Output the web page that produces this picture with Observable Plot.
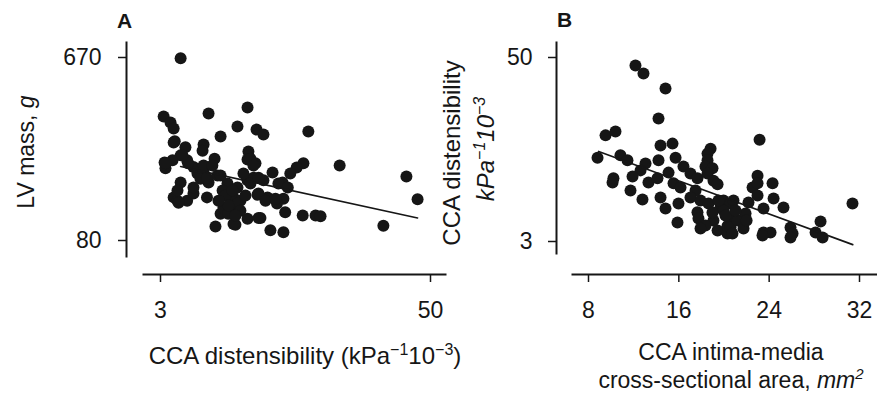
<!DOCTYPE html>
<html><head><meta charset="utf-8">
<script src="https://cdn.jsdelivr.net/npm/d3@7"></script>
<script src="https://cdn.jsdelivr.net/npm/@observablehq/plot@0.6"></script>
<style>
body{margin:0;background:#fff;}
#chart{position:relative;width:877px;height:395px;background:#fff;}
#chart svg{position:absolute;left:0;top:0;}
</style></head><body><div id="chart"></div>
<script>
// Panel A: CCA distensibility (x, log) vs LV mass (y, log)
const aDist = [3.70,3.10,3.33,3.44,3.48,4.95,7.43,6.69,5.61,8.16,8.77,14.0,3.89,4.70,4.65,5.27,7.50,7.43,8.07,3.13,
  3.16,19.4,38.9,43.7,30.6,13.3,12.4,11.6,9.64,10.7,13.2,15.1,15.9,9.43,10.8,5.32,6.55,7.43,8.50,5.61,
  6.42,11.0,10.8,8.24,9.15,10.1,3.44,3.58,3.70,3.96,4.23,4.87,4.95,4.41,4.70,5.43,6.03,6.42,5.73,5.78,
  6.90,7.43,7.90,7.12,8.77,10.25,11.3,3.70,3.96,4.23,3.40,3.16,4.00,4.70,5.15,3.77,3.62,3.58,4.23,4.55,
  4.87,5.61,6.22,6.07,6.69,6.69,7.66,8.33,8.33,8.96,9.94,8.33,6.42,7.66,3.44,7.90,
  5.90,6.35,6.09,6.90,7.27,5.49,6.55];
const aMass = [664,338,315,294,253,350,375,301,268,290,274,284,236,244,227,207,225,205,196,198,
  185,191,168,129,95,196,187,174,176,157,107,107,106,90,88,94,96,103,104,109,
  117,111,130,136,132,123,132,127,157,127,138,132,157,174,180,170,155,132,143,117,
  127,161,166,174,161,155,148,215,203,188,203,196,196,191,191,215,124,143,148,164,
  166,170,132,109,123,148,155,166,138,127,130,104,97,207,250,191,
  135,143,120,113,135,127,107];
const fitAx = [3.7, 43.7];
const fitAy = [189, 104];
const ticksAx = [3, 50];
const ticksAy = [80, 670];

// Panel B: CCA intima-media area (x, linear) vs CCA distensibility (y, log)
const bArea = [12.16,12.87,14.82,14.20,9.51,10.39,23.15,8.80,10.83,11.45,10.13,10.21,14.38,15.44,15.71,14.20,13.05,12.61,11.90,11.72,
  12.78,13.31,14.11,14.38,14.82,15.88,15.97,15.53,15.09,16.41,17.03,17.65,16.15,17.48,17.03,17.92,17.65,17.74,18.81,18.54,
  18.54,18.36,18.98,18.54,19.07,19.43,18.63,19.69,19.07,19.43,20.31,19.96,20.58,19.96,20.58,20.31,20.58,20.75,21.20,21.73,
  21.91,22.0,22.17,22.53,22.97,22.97,22.97,23.50,23.50,24.12,23.41,24.30,24.39,25.27,25.89,26.07,25.89,28.55,28.11,28.73,
  31.38,20.84,18.36,18.98,20.13,19.51,17.92,21.02];
const bDist = [44.3,39.2,31.1,19.7,15.2,16.1,14.2,10.8,11.2,10.4,7.4,7.9,13.0,13.4,10.8,10.4,9.9,8.9,8.1,6.55,
  5.7,7.4,7.9,5.88,4.97,4.01,5.36,7.3,8.6,9.45,8.5,7.9,6.85,6.55,5.88,5.62,4.7,4.26,12.4,11.5,
  10.4,9.45,9.2,8.5,7.6,7.2,5.36,5.05,4.14,3.55,3.39,5.62,5.36,4.82,4.33,3.8,3.72,3.39,4.14,3.66,
  4.60,4.14,5.44,6.85,8.2,7.3,6.06,4.97,3.44,3.44,3.29,7.3,5.79,5.05,3.72,3.39,3.19,4.07,3.44,3.19,
  5.36,5.62,3.83,4.67,4.46,5.62,3.66,4.82];
const fitBx = [8.9, 31.4];
const fitBy = [11.9, 2.86];
const ticksBx = [8, 16, 24, 32];
const ticksBy = [3, 50];

const font = "'Liberation Sans', Arial, Helvetica, sans-serif";
const ink = "#161616";
const W = 877, H = 395;
const base = {width: W, height: H, style: {background: "transparent", fontFamily: font, fontSize: "23px", color: ink, overflow: "visible"}};
const pts = (xs, ys) => xs.map((x, i) => ({x, y: ys[i]}));

const plotA = Plot.plot({
  ...base,
  marginLeft: 126, marginRight: W - 445, marginTop: 42, marginBottom: H - 274,
  x: {type: "log", domain: [3, 50], range: [160, 430]},
  y: {type: "log", domain: [80, 670], range: [240, 57]},
  marks: [
    Plot.frame({anchor: "left", insetBottom: 18, strokeWidth: 2}),
    Plot.frame({anchor: "bottom", insetLeft: 17, strokeWidth: 2}),
    Plot.axisY({ticks: ticksAy, tickSize: 8, tickPadding: 17, tickFormat: d => String(d), label: null, strokeWidth: 1.5}),
    Plot.axisX({ticks: ticksAx, tickSize: 8, tickPadding: 19, tickFormat: d => String(d), label: null, strokeWidth: 1.5}),
    Plot.dot(pts(aDist, aMass), {x: "x", y: "y", r: 6, fill: ink, stroke: null}),
    Plot.line(pts(fitAx, fitAy), {x: "x", y: "y", stroke: ink, strokeWidth: 1.6})
  ]
});

const plotB = Plot.plot({
  ...base,
  marginLeft: 556, marginRight: 0, marginTop: 42, marginBottom: H - 274,
  x: {type: "linear", domain: [8, 32], range: [588, 859]},
  y: {type: "log", domain: [3, 50], range: [241, 57]},
  marks: [
    Plot.frame({anchor: "left", insetBottom: 21, strokeWidth: 2}),
    Plot.frame({anchor: "bottom", insetLeft: 16, strokeWidth: 2}),
    Plot.axisY({ticks: ticksBy, tickSize: 8, tickPadding: 16, tickFormat: d => String(d), label: null, strokeWidth: 1.5}),
    Plot.axisX({ticks: ticksBx, tickSize: 8, tickPadding: 19, tickFormat: d => String(d), label: null, strokeWidth: 1.5}),
    Plot.dot(pts(bArea, bDist), {x: "x", y: "y", r: 6, fill: ink, stroke: null}),
    Plot.line(pts(fitBx, fitBy), {x: "x", y: "y", stroke: ink, strokeWidth: 1.6})
  ]
});

const chart = document.getElementById("chart");
chart.appendChild(plotA);
chart.appendChild(plotB);

// text labels
function label(svg, parts, {x, y, anchor = "middle", rotate = 0, size = 24, weight = "normal"}) {
  const t = d3.select(svg).append("text")
    .attr("transform", `translate(${x},${y}) rotate(${rotate})`)
    .attr("text-anchor", anchor)
    .attr("font-family", font)
    .attr("font-size", size)
    .attr("font-weight", weight)
    .attr("fill", ink);
  parts.forEach(p => {
    const s = t.append("tspan").text(p.t);
    if (p.i) s.attr("font-style", "italic");
    if (p.sup) s.attr("font-size", Math.round(size * 0.65)).attr("dy", -9);
    if (p.down) s.attr("dy", 9);
  });
}
label(plotA, [{t: "A"}], {x: 117, y: 28, anchor: "start", size: 21, weight: "bold"});
label(plotA, [{t: "LV mass, "}, {t: "g", i: true}], {x: 34, y: 152, rotate: -90, size: 23});
label(plotA, [{t: "CCA distensibility (kPa"}, {t: "−1", sup: true}, {t: "10", down: true}, {t: "−3", sup: true}, {t: ")", down: true}], {x: 305, y: 364});

label(plotB, [{t: "B"}], {x: 557, y: 27, anchor: "start", size: 21, weight: "bold"});
label(plotB, [{t: "CCA distensibility"}], {x: 460, y: 153, rotate: -90});
label(plotB, [{t: "kPa", i: true}, {t: "−1", sup: true, i: true}, {t: "10", down: true, i: true}, {t: "−3", sup: true, i: true}], {x: 494, y: 149, rotate: -90});
label(plotB, [{t: "CCA intima-media"}], {x: 731, y: 360, size: 23});
label(plotB, [{t: "cross-sectional area, "}, {t: "mm", i: true}, {t: "2", sup: true, i: true}], {x: 731, y: 388, size: 23});
</script></body></html>
